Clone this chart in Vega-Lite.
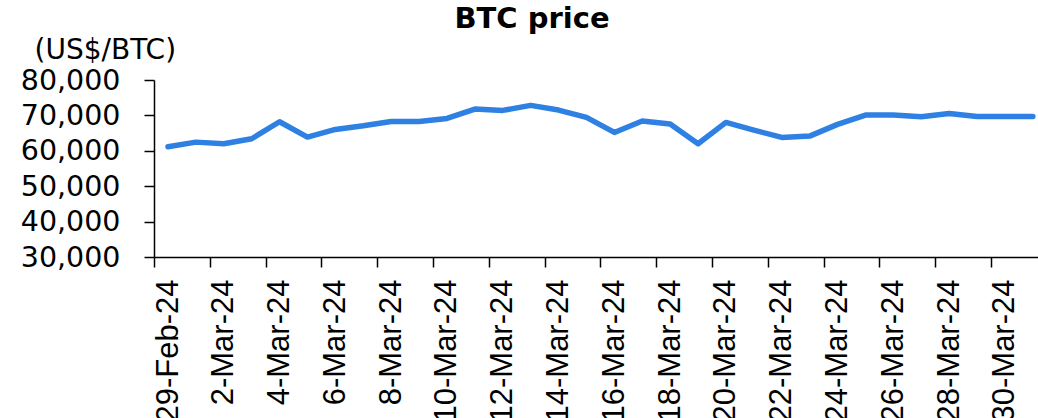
{
  "$schema": "https://vega.github.io/schema/vega-lite/v6.json",
  "autosize": "none",
  "width": 884,
  "height": 177,
  "padding": {"left": 154, "top": 80, "right": 0, "bottom": 161},
  "background": "white",
  "config": {"view": {"stroke": null}},
  "title": {
    "text": "BTC price",
    "font": "DejaVu Sans",
    "fontWeight": "bold",
    "fontSize": 29,
    "color": "black",
    "anchor": "middle",
    "frame": "group",
    "dx": -64,
    "offset": 2
  },
  "data": {
    "values": [
      {"date": "2024-02-29T12:00:00", "price": 61130},
      {"date": "2024-03-01T12:00:00", "price": 62450},
      {"date": "2024-03-02T12:00:00", "price": 61980},
      {"date": "2024-03-03T12:00:00", "price": 63400},
      {"date": "2024-03-04T12:00:00", "price": 68200},
      {"date": "2024-03-05T12:00:00", "price": 63870},
      {"date": "2024-03-06T12:00:00", "price": 66040},
      {"date": "2024-03-07T12:00:00", "price": 67070},
      {"date": "2024-03-08T12:00:00", "price": 68300},
      {"date": "2024-03-09T12:00:00", "price": 68300},
      {"date": "2024-03-10T12:00:00", "price": 69150},
      {"date": "2024-03-11T12:00:00", "price": 71790},
      {"date": "2024-03-12T12:00:00", "price": 71410},
      {"date": "2024-03-13T12:00:00", "price": 72830},
      {"date": "2024-03-14T12:00:00", "price": 71510},
      {"date": "2024-03-15T12:00:00", "price": 69430},
      {"date": "2024-03-16T12:00:00", "price": 65190},
      {"date": "2024-03-17T12:00:00", "price": 68400},
      {"date": "2024-03-18T12:00:00", "price": 67550},
      {"date": "2024-03-19T12:00:00", "price": 61980},
      {"date": "2024-03-20T12:00:00", "price": 68020},
      {"date": "2024-03-21T12:00:00", "price": 65850},
      {"date": "2024-03-22T12:00:00", "price": 63780},
      {"date": "2024-03-23T12:00:00", "price": 64150},
      {"date": "2024-03-24T12:00:00", "price": 67460},
      {"date": "2024-03-25T12:00:00", "price": 70090},
      {"date": "2024-03-26T12:00:00", "price": 70090},
      {"date": "2024-03-27T12:00:00", "price": 69620},
      {"date": "2024-03-28T12:00:00", "price": 70560},
      {"date": "2024-03-29T12:00:00", "price": 69710},
      {"date": "2024-03-30T12:00:00", "price": 69710},
      {"date": "2024-03-31T12:00:00", "price": 69710}
    ]
  },
  "mark": {"type": "line", "color": "#2E80E2", "strokeWidth": 5.5, "strokeCap": "round", "strokeJoin": "round"},
  "encoding": {
    "x": {
      "field": "date",
      "type": "temporal",
      "scale": {
        "domain": [
          {"year": 2024, "month": "feb", "date": 29},
          {"year": 2024, "month": "mar", "date": 31, "hours": 16, "minutes": 26}
        ]
      },
      "axis": {
        "title": null,
        "grid": false,
        "format": "%-d-%b-%y",
        "values": [
          {"year": 2024, "month": "feb", "date": 29},
          {"year": 2024, "month": "mar", "date": 2},
          {"year": 2024, "month": "mar", "date": 4},
          {"year": 2024, "month": "mar", "date": 6},
          {"year": 2024, "month": "mar", "date": 8},
          {"year": 2024, "month": "mar", "date": 10},
          {"year": 2024, "month": "mar", "date": 12},
          {"year": 2024, "month": "mar", "date": 14},
          {"year": 2024, "month": "mar", "date": 16},
          {"year": 2024, "month": "mar", "date": 18},
          {"year": 2024, "month": "mar", "date": 20},
          {"year": 2024, "month": "mar", "date": 22},
          {"year": 2024, "month": "mar", "date": 24},
          {"year": 2024, "month": "mar", "date": 26},
          {"year": 2024, "month": "mar", "date": 28},
          {"year": 2024, "month": "mar", "date": 30}
        ],
        "labelAngle": 270,
        "labelFont": "Liberation Sans",
        "labelFontSize": 31,
        "labelColor": "black",
        "labelPadding": 12,
        "labelOffset": 14,
        "labelOverlap": false,
        "labelBound": false,
        "labelFlush": false,
        "tickSize": 10,
        "tickColor": "black",
        "tickWidth": 1.5,
        "domainColor": "black",
        "domainWidth": 1.5
      }
    },
    "y": {
      "field": "price",
      "type": "quantitative",
      "scale": {"domain": [30000, 80000], "nice": false, "zero": false},
      "axis": {
        "title": "(US$/BTC)",
        "titleAngle": 0,
        "titleX": -120,
        "titleY": -22,
        "titleAlign": "left",
        "titleBaseline": "alphabetic",
        "titleFont": "DejaVu Sans",
        "titleFontSize": 28,
        "titleFontWeight": "normal",
        "titleColor": "black",
        "grid": false,
        "values": [30000, 40000, 50000, 60000, 70000, 80000],
        "format": ",.0f",
        "labelFont": "DejaVu Sans",
        "labelFontSize": 28.5,
        "labelColor": "black",
        "labelPadding": 24,
        "labelOverlap": false,
        "labelFlush": false,
        "tickSize": 10,
        "tickColor": "black",
        "tickWidth": 1.5,
        "domainColor": "black",
        "domainWidth": 1.5
      }
    }
  }
}
